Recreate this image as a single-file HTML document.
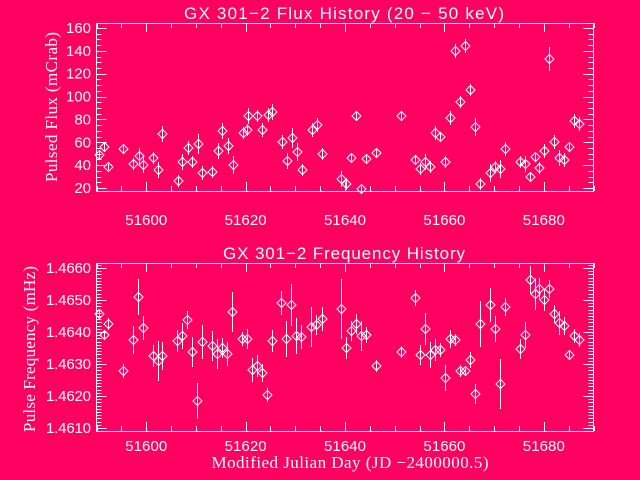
<!DOCTYPE html><html><head><meta charset="utf-8"><style>html,body{margin:0;padding:0;background:#ff0060}svg{display:block}</style></head><body>
<svg id="s" width="640" height="480" xmlns="http://www.w3.org/2000/svg" font-family="Liberation Sans, sans-serif" fill="#fff">
<rect width="640" height="480" fill="#ff0060"/>
</svg>
<script>
const s=document.getElementById('s');let h='';
const L=(a,b,c,d)=>h+=`<line x1="${a}" y1="${b}" x2="${c}" y2="${d}" stroke="#fff" stroke-width="1"/>`;
const T=(x,y,t,o='')=>h+=`<text x="${x}" y="${y}" ${o}>${t}</text>`;
const X0=96.5,X1=593.5,px=d=>X0+(d-51590)*4.97;
function frame(top,bot){h+=`<rect x="${X0}" y="${top+.5}" width="${X1-X0}" height="${bot-top}" fill="none" stroke="#fff"/>`;
 for(let d=51590;d<=51690;d+=5){const x=Math.round(px(d))+.5,l=d%20==0?9:5;L(x,bot,x,bot-l);L(x,top,x,top+l);}
 for(let d=51600;d<=51680;d+=20)T(px(d),bot+(top<100?34:20),d,'text-anchor="middle" font-size="15" textLength="42"');}
frame(23,191);frame(263,431);
const fy=v=>188-(v-20)*160/140;
for(let v=20;v<=160;v+=5){const y=Math.round(fy(v))+.5,l=v%20==0?10:5;L(X0,y,X0+l,y);L(X1,y,X1-l,y);}
for(let v=20;v<=160;v+=20)T(91,fy(v)+5,v,'text-anchor="end" font-size="15"');
const gy=v=>268+(1.466-v)*32000;
for(let i=0;i<=52;i++){const v=1.461+i*0.0001;const y=Math.round(gy(v))+.5;if(y<263||y>431)continue;const l=i%10==0?10:5;L(X0,y,X0+l,y);L(X1,y,X1-l,y);}
for(let i=0;i<=5;i++)T(91,gy(1.461+i*0.001)+5,(1.461+i*0.001).toFixed(4),'text-anchor="end" font-size="15" textLength="45"');
const A=[[99,155,4],[104,147,5],[108,167,3],[123,149,5],[133,164,6],[139,156,8],[143,165,8],[153,158,6],[158,170,8],[162,134,8],[178,181,6],[182,162,8],[188,148,7],[192,162,6],[198,144,10],[202,173,7],[212,172,6],[218,151,8],[222,131,8],[228,146,8],[233,165,9],[243,133,6],[248,116,8],[247,130,6],[257,116,6],[262,130,7],[268,115,7],[272,112,8],[282,142,7],[287,161,8],[292,138,10],[297,152,9],[302,170,6],[312,130,7],[317,125,7],[322,154,6],[341,179,8],[346,184,6],[351,158,4],[356,116,4],[361,189,4],[366,159,4],[376,153,4],[401,116,5],[415,160,5],[420,169,6],[425,162,8],[430,167,6],[435,133,7],[440,137,5],[445,162,6],[450,118,7],[455,51,7],[460,102,6],[465,46,7],[470,90,6],[475,127,9],[480,184,6],[490,173,9],[495,167,6],[500,169,9],[505,149,7],[520,162,6],[525,164,8],[530,177,5],[535,157,5],[539,168,6],[544,151,7],[549,59,12],[554,142,7],[559,158,8],[564,160,7],[569,147,4],[574,121,7],[579,124,7]];
const B=[[99,314,4],[104,335,5],[108,324,6],[123,371,7],[133,340,14],[138,297,18],[143,328,12],[153,356,11],[158,361,20],[162,356,14],[177,341,11],[182,336,13],[187,320,9],[192,352,15],[197,401,18],[202,342,17],[212,346,15],[217,354,15],[222,348,10],[227,354,12],[232,312,20],[242,339,7],[247,339,10],[252,370,12],[257,366,11],[262,373,9],[267,395,7],[272,341,11],[281,303,12],[286,339,18],[291,305,21],[296,336,18],[301,337,12],[311,327,20],[316,325,10],[322,319,12],[341,309,30],[346,348,11],[351,331,10],[356,324,10],[361,336,15],[366,335,8],[376,366,6],[401,352,6],[415,298,8],[420,355,10],[425,329,16],[430,355,13],[435,350,11],[440,350,7],[445,378,13],[450,339,9],[455,340,6],[460,371,6],[465,371,5],[470,360,8],[475,394,10],[480,324,23],[490,305,17],[495,329,13],[500,384,25],[505,307,9],[520,349,10],[525,335,13],[530,280,14],[535,294,16],[539,289,11],[544,300,11],[549,289,9],[554,314,9],[559,323,12],[564,326,9],[569,355,5],[574,336,7],[579,340,7]];
for(const [x,y,e] of A.concat(B)){const X=x+.5;L(X,y-e,X,y+e);h+=`<path d="M${X-4.5} ${y}L${X} ${y-4.5}L${X+4.5} ${y}L${X} ${y+4.5}Z" fill="none" stroke="#fff"/>`;}
T(344,19,'GX 301−2 Flux History (20 − 50 keV)','text-anchor="middle" font-size="17" textLength="320"');
T(344,259,'GX 301−2 Frequency History','text-anchor="middle" font-size="17" textLength="242"');
T(0,0,'Pulsed Flux (mCrab)','text-anchor="middle" font-size="17" font-family="Liberation Serif, serif" textLength="150" transform="translate(57,107) rotate(-90)"');
T(0,0,'Pulse Frequency (mHz)','text-anchor="middle" font-size="17" font-family="Liberation Serif, serif" textLength="166" transform="translate(35,349) rotate(-90)"');
T(350,468,'Modified Julian Day (JD −2400000.5)','text-anchor="middle" font-size="17" font-family="Liberation Serif, serif" textLength="277"');
s.insertAdjacentHTML('beforeend',h);
</script>
</body></html>
